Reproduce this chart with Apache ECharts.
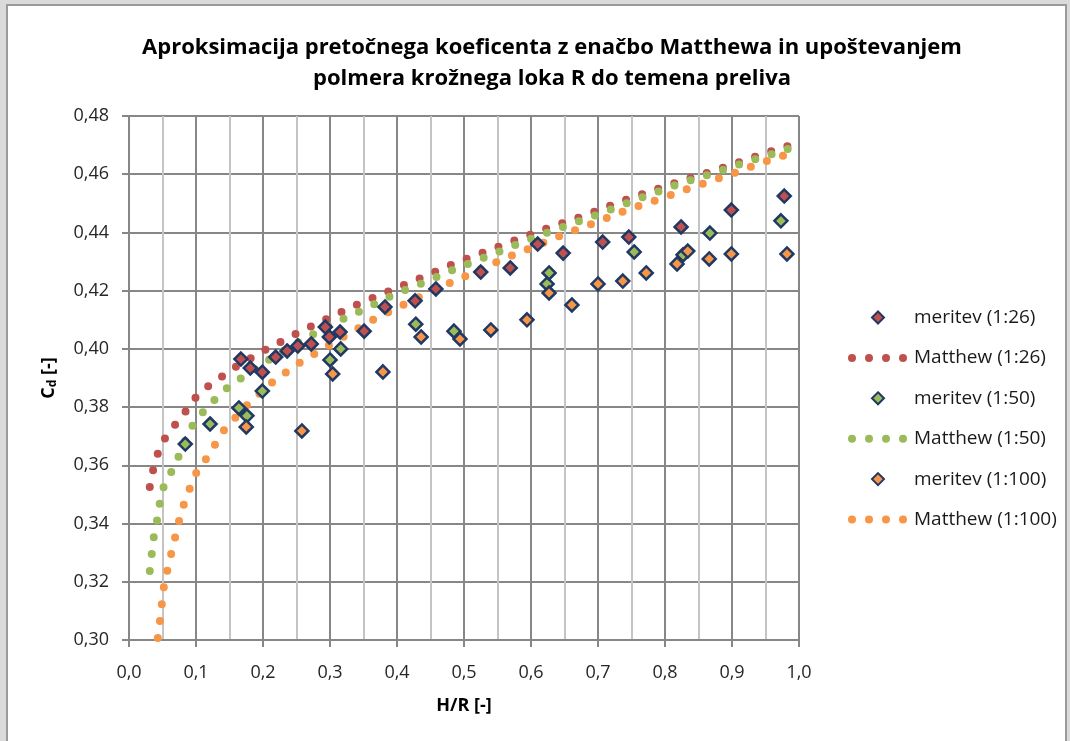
<!DOCTYPE html>
<html>
<head>
<meta charset="utf-8">
<script src="https://cdn.jsdelivr.net/npm/echarts@6/dist/echarts.min.js"></script>
<style>
  html, body { margin: 0; padding: 0; }
  body { width: 1070px; height: 741px; background: #dadada; overflow: hidden; position: relative; }
  #frame { position: absolute; left: 6px; top: 4px; width: 1057px; height: 745px;
           background: #fff; border: 2px solid #9a9a9a; border-bottom: none; }
  #chart { width: 1057px; height: 745px; }
</style>
</head>
<body>
<div id="frame"><div id="chart"></div></div>
<script>
// meritve (H/R, Cd)
var hr26 = [0.167, 0.181, 0.199, 0.219, 0.236, 0.252, 0.272, 0.293, 0.299, 0.315, 0.351, 0.382, 0.427, 0.458, 0.525, 0.569, 0.610, 0.648, 0.707, 0.746, 0.824, 0.899, 0.978];
var cd26 = [0.3965, 0.3934, 0.3920, 0.3972, 0.3993, 0.4010, 0.4017, 0.4075, 0.4041, 0.4058, 0.4061, 0.4144, 0.4165, 0.4206, 0.4264, 0.4278, 0.4360, 0.4329, 0.4367, 0.4384, 0.4419, 0.4477, 0.4525];

var hr50 = [0.084, 0.121, 0.164, 0.176, 0.199, 0.300, 0.316, 0.428, 0.485, 0.624, 0.627, 0.754, 0.827, 0.867, 0.973];
var cd50 = [0.3673, 0.3742, 0.3797, 0.3770, 0.3855, 0.3962, 0.4000, 0.4085, 0.4061, 0.4223, 0.4261, 0.4333, 0.4323, 0.4398, 0.4440];

var hr100 = [0.175, 0.258, 0.304, 0.379, 0.436, 0.494, 0.540, 0.594, 0.627, 0.661, 0.700, 0.737, 0.772, 0.818, 0.834, 0.866, 0.899, 0.982];
var cd100 = [0.3732, 0.3718, 0.3914, 0.3921, 0.4041, 0.4034, 0.4065, 0.4100, 0.4192, 0.4151, 0.4223, 0.4233, 0.4261, 0.4292, 0.4336, 0.4309, 0.4326, 0.4326];

// Matthew krivulje
var mx26 = [0.031, 0.036, 0.043, 0.054, 0.069, 0.085, 0.100, 0.119, 0.140, 0.161, 0.185, 0.206, 0.252, 0.298, 0.342, 0.392, 0.439, 0.487, 0.534, 0.582, 0.630, 0.678, 0.727, 0.775, 0.824, 0.872, 0.921, 0.969, 1.000];
var my26 = [0.3526, 0.3584, 0.3640, 0.3694, 0.3740, 0.3787, 0.3835, 0.3873, 0.3907, 0.3941, 0.3972, 0.4000, 0.4055, 0.4106, 0.4154, 0.4202, 0.4247, 0.4295, 0.4336, 0.4378, 0.4419, 0.4456, 0.4500, 0.4539, 0.4577, 0.4611, 0.4649, 0.4687, 0.4708];

var mx50 = [0.031, 0.034, 0.037, 0.042, 0.046, 0.052, 0.064, 0.075, 0.085, 0.096, 0.112, 0.130, 0.148, 0.170, 0.213, 0.258, 0.304, 0.349, 0.394, 0.442, 0.490, 0.536, 0.584, 0.631, 0.681, 0.728, 0.776, 0.825, 0.873, 0.922, 0.970, 1.000];
var my50 = [0.3237, 0.3296, 0.3354, 0.3412, 0.3471, 0.3529, 0.3581, 0.3635, 0.3690, 0.3742, 0.3787, 0.3831, 0.3869, 0.3903, 0.3969, 0.4030, 0.4086, 0.4134, 0.4185, 0.4230, 0.4278, 0.4319, 0.4364, 0.4405, 0.4446, 0.4487, 0.4529, 0.4570, 0.4604, 0.4642, 0.4676, 0.4700];

var mx100 = [0.043, 0.046, 0.049, 0.052, 0.057, 0.063, 0.069, 0.075, 0.082, 0.091, 0.101, 0.115, 0.130, 0.143, 0.178, 0.216, 0.258, 0.325, 0.369, 0.415, 0.462, 0.509, 0.555, 0.603, 0.651, 0.699, 0.746, 0.796, 0.842, 0.891, 0.939, 0.988, 1.000];
var my100 = [0.3007, 0.3062, 0.3124, 0.3182, 0.3237, 0.3296, 0.3354, 0.3412, 0.3467, 0.3522, 0.3577, 0.3622, 0.3677, 0.3725, 0.3811, 0.3890, 0.3958, 0.4048, 0.4106, 0.4158, 0.4209, 0.4257, 0.4305, 0.4350, 0.4395, 0.4436, 0.4480, 0.4518, 0.4556, 0.4594, 0.4635, 0.4673, 0.4680];

var names = ['meritev (1:26)', 'Matthew (1:26)', 'meritev (1:50)', 'Matthew (1:50)', 'meritev (1:100)', 'Matthew (1:100)'];
var colors = ['#c0504d', '#9bbb59', '#f79646'];

var font = '"Open Sans", sans-serif';
var gridMajor = '#878787';
var gridMinor = '#c4c4c4';
// diamond in the middle of a 62x14 box, so the legend doesn't stretch it
var legendDiamond = 'path://M0,0M62,14M31,1L37,7L31,13L25,7Z';

function zip(a, b){
    var out = [];
    for (var i = 0; i < a.length; i++){
        out.push([a[i], b[i]]);
    }
    return out;
}

function meritev(name, x, y, color){
    return {
        name: name,
        type: 'scatter',
        data: zip(x, y),
        symbol: 'diamond',
        symbolSize: 13,
        z: 3,
        itemStyle: { color: color, borderColor: '#1f3864', borderWidth: 2.5, opacity: 1 }
    };
}

function matthew(name, x, y, color){
    return {
        name: name,
        type: 'line',
        data: zip(x, y),
        symbol: 'none',
        showSymbol: false,
        z: 2,
        itemStyle: { color: color },
        lineStyle: { color: color, width: 8, type: [0, 17], cap: 'round' }
    };
}

var legendData = [];
for (var i = 0; i < names.length; i++){
    if (i % 2 == 0){
        legendData.push({ name: names[i], icon: legendDiamond });
    } else {
        legendData.push({ name: names[i], itemStyle: { opacity: 0 } });
    }
}

var chart = echarts.init(document.getElementById('chart'), null, { renderer: 'canvas' });
var option = {};
option['animation'] = false;
option['backgroundColor'] = '#ffffff';

option['title'] = {
    text: 'Aproksimacija pretočnega koeficenta z enačbo Matthewa in upoštevanjem\npolmera krožnega loka R do temena preliva',
    left: 539,
    textAlign: 'center',
    top: 21,
    textStyle: { fontFamily: font, fontSize: 22, fontWeight: 'bold', color: '#000', lineHeight: 31 }
};

option['legend'] = {
    data: legendData,
    orient: 'vertical',
    left: 835,
    top: 302,
    padding: 0,
    itemWidth: 62,
    itemHeight: 14,
    itemGap: 21.4,
    textStyle: { fontFamily: font, fontSize: 19, color: '#1a1a1a', lineHeight: 16 },
    itemStyle: { borderColor: '#1f3864', borderWidth: 2 },
    lineStyle: { width: 8, dashOffset: -5 }
};

option['grid'] = { left: 121, top: 110, width: 670, height: 524, containLabel: false };

option['xAxis'] = {
    type: 'value',
    min: 0, max: 1, interval: 0.1,
    name: 'H/R [-]',
    nameLocation: 'middle',
    nameGap: 57,
    nameTextStyle: { fontFamily: font, fontSize: 18, fontWeight: 'bold', color: '#000' },
    axisLine: { show: true, lineStyle: { color: gridMajor, width: 2 } },
    axisTick: { show: true, length: 7, lineStyle: { color: gridMajor, width: 2 } },
    axisLabel: { fontFamily: font, fontSize: 18, color: '#262626', margin: 24,
                 formatter: function(v){ return v.toFixed(1).replace('.', ','); } },
    splitLine: { show: true, lineStyle: { color: gridMajor, width: 2 } },
    minorTick: { show: false, splitNumber: 2 },
    minorSplitLine: { show: true, lineStyle: { color: gridMinor, width: 2 } }
};

option['yAxis'] = {
    type: 'value',
    min: 0.30, max: 0.48, interval: 0.02,
    name: '{c|C}{d|d}{c| [-]}',
    nameLocation: 'middle',
    nameRotate: 90,
    nameGap: 70,
    nameTextStyle: {
        rich: {
            c: { fontFamily: font, fontSize: 18, fontWeight: 'bold', color: '#000' },
            d: { fontFamily: font, fontSize: 12, fontWeight: 'bold', color: '#000', verticalAlign: 'bottom', padding: [8, 0, 0, 0] }
        }
    },
    axisLine: { show: true, lineStyle: { color: gridMajor, width: 2 } },
    axisTick: { show: true, length: 7, lineStyle: { color: gridMajor, width: 2 } },
    axisLabel: { fontFamily: font, fontSize: 18, color: '#262626', margin: 20,
                 formatter: function(v){ return v.toFixed(2).replace('.', ','); } },
    splitLine: { show: true, lineStyle: { color: gridMajor, width: 2 } }
};

option['series'] = [
    meritev(names[0], hr26, cd26, colors[0]),
    matthew(names[1], mx26, my26, colors[0]),
    meritev(names[2], hr50, cd50, colors[1]),
    matthew(names[3], mx50, my50, colors[1]),
    meritev(names[4], hr100, cd100, colors[2]),
    matthew(names[5], mx100, my100, colors[2])
];

option && chart.setOption(option);
</script>
</body>
</html>
